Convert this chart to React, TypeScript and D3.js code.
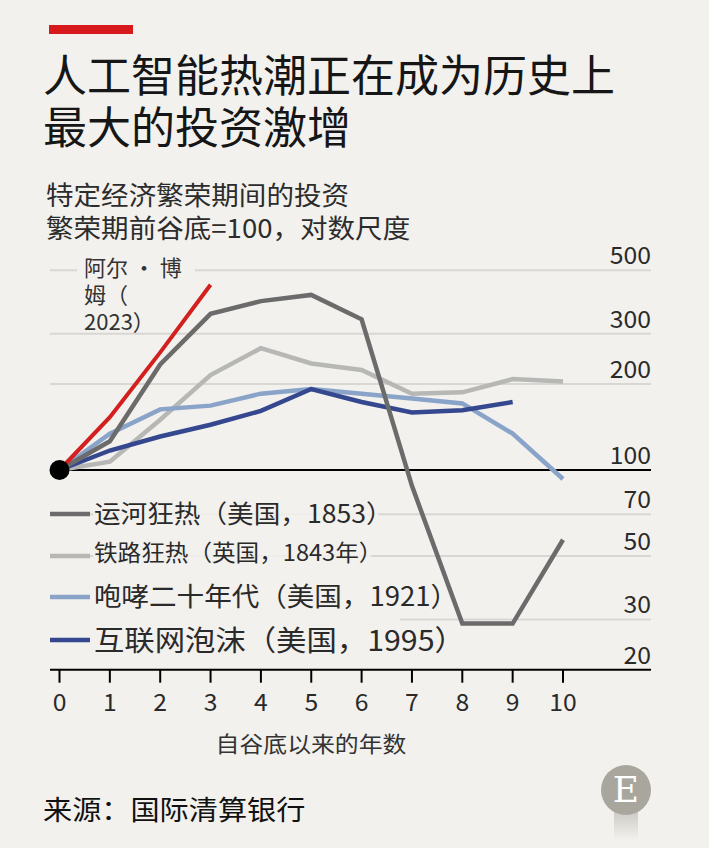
import React from "react";
import * as d3 from "d3";

const years = [0, 1, 2, 3, 4, 5, 6, 7, 8, 9, 10];
const aiBoom = [100, 153, 258, 445];
const canalMania = [100, 126, 234, 352, 390, 410, 337, 88, 29, 29, 57];
const railwayMania = [100, 107, 150, 215, 267, 236, 224, 185, 187, 208, 204];
const roaringTwenties = [100, 134, 163, 168, 185, 192, 185, 178, 171, 134, 93];
const dotCom = [100, 117, 131, 144, 161, 192, 173, 159, 162, 173];

const yTicks = [500, 300, 200, 100, 70, 50, 30, 20];
const gridValues = [500, 300, 200, 70, 50, 30];

const title = ["人工智能热潮正在成为历史上", "最大的投资激增"];
const subtitle = ["特定经济繁荣期间的投资", "繁荣期前谷底=100，对数尺度"];
const aiLabel = ["阿尔 · 博", "姆（", "2023）"];
const legendLabels = [
  "运河狂热（美国，1853）",
  "铁路狂热（英国，1843年）",
  "咆哮二十年代（美国，1921）",
  "互联网泡沫（美国，1995）",
];
const xTitle = "自谷底以来的年数";
const source = "来源：国际清算银行";

const BG = "#f2f1ed";
const FONT = "'Noto Sans CJK SC', 'Noto Sans', sans-serif";

type TProps = {
  x: number;
  y: number;
  sx?: number;
  size: number;
  fill?: string;
  anchor?: string;
  family?: string;
  children: React.ReactNode;
};

function T({ x, y, sx = 1, size, fill = "#2a2a2a", anchor = "start", family, children }: TProps) {
  return (
    <text
      transform={`translate(${x},${y}) scale(${sx},1)`}
      fontSize={size}
      fill={fill}
      textAnchor={anchor}
      fontFamily={family}
    >
      {children}
    </text>
  );
}

export default function App() {
  const x = d3.scaleLinear().domain([0, 10]).range([59.5, 563]);
  const y = d3.scaleLog().domain([20, 500]).range([669.7, 270.3]);
  const line = d3
    .line<number>()
    .x((_, i) => x(years[i]))
    .y((d) => y(d));

  const series = [
    { data: railwayMania, color: "#b7b7b5", w: 4.5 },
    { data: roaringTwenties, color: "#8aa3c9", w: 4.5 },
    { data: dotCom, color: "#34478f", w: 4.5 },
    { data: canalMania, color: "#6b6b6b", w: 4.5 },
    { data: aiBoom, color: "#d41f1f", w: 4 },
  ];

  const legend = [
    { label: legendLabels[0], color: "#6b6b6b", size: 25, sx: 1.065, sy: 514, by: 523, w: 285 },
    { label: legendLabels[1], color: "#b7b7b5", size: 22.5, sx: 1.05, sy: 556, by: 561, w: 278 },
    { label: legendLabels[2], color: "#8aa3c9", size: 26.5, sx: 1.04, sy: 597, by: 606, w: 352 },
    { label: legendLabels[3], color: "#34478f", size: 28.5, sx: 1.065, sy: 640, by: 651, w: 358 },
  ];

  return (
    <svg
      width={709}
      height={848}
      style={{ position: "absolute", left: 0, top: 0, fontFamily: FONT }}
    >
      <rect width={709} height={848} fill={BG} />
      <rect x={49} y={25} width={84} height={9} fill="#d7191c" />
      {title.map((t, i) => (
        <T key={t} x={43} y={92 + i * 52} size={44} fill="#161616">
          {t}
        </T>
      ))}
      {subtitle.map((t, i) => (
        <T key={t} x={46} y={205 + i * 33} size={26} sx={1.06} fill="#2c2c2c">
          {t}
        </T>
      ))}

      {/* gridlines */}
      {gridValues.map((v) => (
        <line
          key={v}
          x1={v === 30 ? 400 : 50}
          x2={651}
          y1={y(v)}
          y2={y(v)}
          stroke="#d8d7d3"
          strokeWidth={2}
        />
      ))}
      <line x1={50} x2={651} y1={y(100)} y2={y(100)} stroke="#000" strokeWidth={2} />

      {/* right axis labels */}
      {yTicks.map((v) => (
        <T key={v} x={651} y={y(v) - 6} anchor="end" size={24} sx={1.03}>
          {v}
        </T>
      ))}

      {/* annotation background */}
      <rect x={77} y={252} width={118} height={78} fill={BG} />
      {aiLabel.map((t, i) => (
        <T key={t} x={84} y={276 + i * 27} size={22} fill="#333">
          {t}
        </T>
      ))}

      {/* legend */}
      {legend.map((l) => (
        <g key={l.label}>
          <rect x={93} y={l.by - l.size * 0.92} width={l.w} height={l.size * 1.05} fill={BG} opacity={0.85} />
          <line x1={50} x2={90} y1={l.sy} y2={l.sy} stroke={l.color} strokeWidth={4.5} />
          <T x={94} y={l.by} size={l.size} sx={l.sx}>
            {l.label}
          </T>
        </g>
      ))}

      {/* series */}
      {series.map((s, i) => (
        <path
          key={i}
          d={line(s.data) || ""}
          fill="none"
          stroke={s.color}
          strokeWidth={s.w}
          strokeLinejoin="miter"
        />
      ))}
      <circle cx={x(0)} cy={y(100)} r={10} fill="#000" />

      {/* x axis */}
      <line x1={50} x2={651} y1={y(20)} y2={y(20)} stroke="#000" strokeWidth={2} />
      {years.map((t) => (
        <g key={t}>
          <line x1={x(t)} x2={x(t)} y1={y(20)} y2={y(20) + 13} stroke="#000" strokeWidth={2} />
          <T x={x(t)} y={711} anchor="middle" size={24} sx={1.03}>
            {t}
          </T>
        </g>
      ))}
      <T x={311} y={752} anchor="middle" size={22} sx={1.085} fill="#333">
        {xTitle}
      </T>

      <T x={43} y={820} size={27} sx={1.08} fill="#111">
        {source}
      </T>

      {/* logo */}
      <defs>
        <linearGradient id="stem" x1="0" y1="0" x2="0" y2="1">
          <stop offset="0" stopColor="#b8b6ae" stopOpacity={0.8} />
          <stop offset="1" stopColor="#b8b6ae" stopOpacity={0} />
        </linearGradient>
      </defs>
      <rect x={614} y={805} width={24} height={35} fill="url(#stem)" />
      <circle cx={626} cy={790} r={25} fill="#a8a69d" />
      <T
        x={626}
        y={802}
        anchor="middle"
        size={36}
        fill="#fff"
        family="'DejaVu Serif', 'Liberation Serif', serif"
      >
        E
      </T>
    </svg>
  );
}
